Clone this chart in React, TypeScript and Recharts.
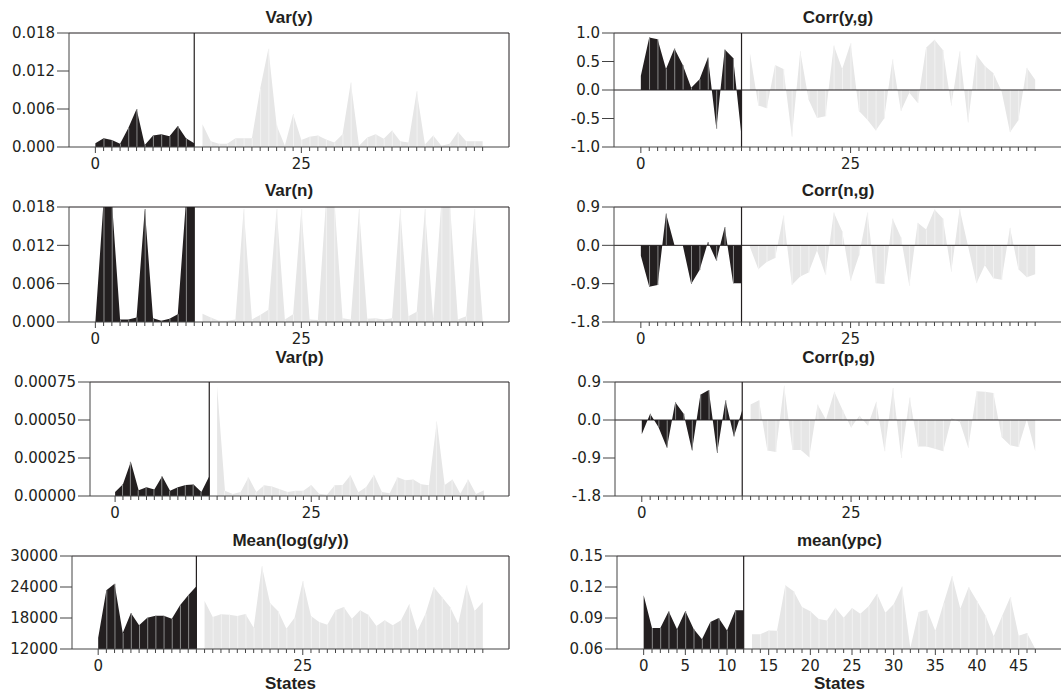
import React from 'react';
import { ComposedChart, Area, Bar, Cell, XAxis, YAxis, ReferenceLine } from 'recharts';

// states 0..47, the first 13 (0..12) drawn dark, the rest light
const states = [
  0, 1, 2, 3, 4, 5, 6, 7, 8, 9, 10, 11, 12, 13, 14, 15, 16, 17, 18, 19, 20, 21, 22, 23,
  24, 25, 26, 27, 28, 29, 30, 31, 32, 33, 34, 35, 36, 37, 38, 39, 40, 41, 42, 43, 44, 45, 46, 47,
];
const SPLIT = 12;

const varY = [
  0.0006, 0.0014, 0.0011, 0.0005, 0.003, 0.006, 0.0003, 0.0018, 0.002, 0.0017, 0.0033, 0.0014, 0.0006,
  0.0036, 0.0009, 0.0005, 0.0005, 0.0014, 0.0014, 0.0014, 0.0092, 0.0155, 0.0034, 0.0002, 0.0052,
  0.0011, 0.0016, 0.0018, 0.0012, 0.0007, 0.002, 0.0102, 0.0002, 0.0015, 0.002, 0.0013, 0.0026,
  0.0009, 0.0007, 0.0088, 0.0004, 0.0018, 0.0002, 0.0005, 0.0024, 0.0009, 0.0009, 0.0009,
];

const varN = [
  0, 0.019, 0.019, 0.0004, 0.0004, 0.0007, 0.0177, 0.0006, 0.0002, 0.0005, 0.0012, 0.019, 0.019,
  0.0013, 0.0007, 0.0002, 0.0002, 0.0004, 0.0177, 0.0004, 0.0011, 0.0019, 0.0177, 0.0004, 0.0012,
  0.0177, 0.0004, 0.0003, 0.019, 0.019, 0.0006, 0.0004, 0.0177, 0.0005, 0.0006, 0.0004, 0.0006,
  0.0177, 0.0009, 0.0016, 0.0177, 0.0004, 0.019, 0.019, 0.0004, 0.0009, 0.0177, 0.0003,
];

const varP = [
  2.6e-5, 7.7e-5, 2.25e-4, 3.75e-5, 5.7e-5, 4.2e-5, 1.3e-4, 3.5e-5, 5.7e-5, 7.3e-5, 7.5e-5, 2.6e-5, 1.3e-4,
  7.2e-4, 3.5e-5, 1.3e-5, 2.6e-5, 1.24e-4, 2.6e-5, 7.0e-5, 6.2e-5, 4.4e-5, 2.6e-5, 3.5e-5, 3.5e-5,
  7.3e-5, 1.5e-5, 9e-6, 7.0e-5, 7.3e-5, 1.37e-4, 2.4e-5, 6.0e-5, 1.39e-4, 2.6e-5, 1.8e-5, 1.24e-4,
  1.04e-4, 1.08e-4, 7.7e-5, 7.0e-5, 4.9e-4, 7.3e-5, 1.08e-4, 1.5e-5, 1.08e-4, 1.3e-5, 3.75e-5,
];

const meanLogGY = [
  14190, 23350, 24650, 15100, 18970, 16580, 18060, 18450, 18450, 17870, 20450, 22390, 24130,
  21290, 18190, 18710, 18640, 18390, 18770, 16130, 28000, 20900, 19290, 15930, 18060,
  25160, 18390, 17220, 16710, 19480, 20130, 17870, 19480, 18640, 16450, 17550, 16580,
  17550, 20640, 15480, 18840, 24000, 22060, 20130, 16900, 24320, 19350, 21100,
];

const corrYG = [
  0.25, 0.92, 0.89, 0.37, 0.73, 0.44, 0.04, 0.19, 0.57, -0.68, 0.71, 0.56, -0.81,
  0.65, -0.27, -0.32, 0.44, 0.37, -0.82, 0.68, -0.17, -0.49, -0.46, 0.78, 0.37,
  0.82, -0.37, -0.52, -0.71, -0.5, 0.54, -0.37, -0.05, -0.23, 0.74, 0.88, 0.7,
  -0.27, 0.68, -0.57, 0.62, 0.42, 0.3, -0.02, -0.74, -0.53, 0.39, 0.18,
];

const corrNG = [
  -0.245, -0.97, -0.93, 0.75, 0.01, 0, -0.91, -0.58, 0.08, -0.36, 0.43, -0.89, -0.89,
  -0.04, -0.56, -0.39, -0.3, 0.7, -0.93, -0.73, -0.64, -0.12, -0.69, 0.77, 0.33,
  -0.83, -0.24, 0.77, -0.89, -0.91, 0.63, 0.19, -0.95, 0.53, 0.37, 0.84, 0.63,
  -0.62, 0.86, -0.02, -0.89, -0.47, -0.77, -0.81, 0.41, -0.56, -0.75, -0.68,
];

const corrPG = [
  -0.34, 0.15, -0.17, -0.66, 0.42, 0.15, -0.72, 0.6, 0.71, -0.78, 0.47, -0.39, 0.23,
  0.37, 0.47, -0.72, -0.76, 0.81, -0.71, -0.71, -0.88, 0.37, 0.01, 0.67, 0.23,
  -0.18, 0.1, -0.13, 0.43, -0.74, 0.76, -0.9, 0.53, -0.63, -0.63, -0.68, -0.74,
  0.04, -0.05, -0.66, 0.68, 0.67, 0.64, -0.41, -0.6, -0.64, 0.01, -0.74,
];

const meanYpc = [
  0.1119, 0.0803, 0.0803, 0.0965, 0.079, 0.0968, 0.0794, 0.0694, 0.0861, 0.09, 0.078, 0.0974, 0.0974,
  0.0742, 0.0742, 0.078, 0.0777, 0.1216, 0.1158, 0.1006, 0.0965, 0.089, 0.0877, 0.1, 0.0903,
  0.0997, 0.0942, 0.1013, 0.1135, 0.0952, 0.1032, 0.1206, 0.061, 0.0958, 0.098, 0.0774, 0.1045,
  0.1306, 0.099, 0.12, 0.1065, 0.0926, 0.0723, 0.0916, 0.1103, 0.0729, 0.0755, 0.06,
];

const sparseLabels = [0, 25];
const fullLabels = [0, 5, 10, 15, 20, 25, 30, 35, 40, 45];

const X_DOMAIN: [number, number] = [-3.2, 50.2];
const ink = '#231f20';
const axisColor = '#444444';
const darkFill = '#231f20';
const lightFill = '#e6e6e6';
const darkSep = '#8a8a8a';
const lightSep = '#f2f2f2';
const TOP_PAD = 12;
const X_AXIS_H = 30;

function buildRows(values: number[]) {
  const last = states.length - 1;
  return states.map((s, i) => ({
    state: s,
    dark: i <= SPLIT ? values[i] : null,
    light: i > SPLIT ? values[i] : null,
    sep: i === 0 || i === SPLIT || i === SPLIT + 1 || i === last ? null : values[i],
  }));
}

function XTick(props: any) {
  const { x, y, payload, labels } = props;
  const major = labels.includes(payload.value);
  return (
    <g>
      <line x1={x} y1={y} x2={x} y2={y + (major ? 6 : 4)} stroke={axisColor} strokeWidth={1} />
      {major && (
        <text
          x={x}
          y={y + 11}
          dy="0.71em"
          textAnchor="middle"
          fill={ink}
          style={{ fontFamily: 'DejaVu Sans', fontSize: 15 }}
        >
          {payload.value}
        </text>
      )}
    </g>
  );
}

interface PanelProps {
  title: string;
  values: number[];
  yDomain: [number, number];
  yTicks: number[];
  decimals: number;
  chartLeft: number;
  plotLeft: number;
  plotRight: number;
  plotTop: number;
  plotHeight: number;
  titleTop: number;
  xLabels: number[];
  zeroLine?: boolean;
  rightBorder?: boolean;
}

function Panel({
  title,
  values,
  yDomain,
  yTicks,
  decimals,
  chartLeft,
  plotLeft,
  plotRight,
  plotTop,
  plotHeight,
  titleTop,
  xLabels,
  zeroLine,
  rightBorder,
}: PanelProps) {
  const rows = buildRows(values);
  const marginRight = rightBorder ? 2 : 0;
  const width = plotRight - chartLeft + marginRight;
  const height = TOP_PAD + plotHeight + X_AXIS_H;

  return (
    <>
      <div
        style={{
          position: 'absolute',
          left: plotLeft,
          width: plotRight - plotLeft,
          top: titleTop,
          textAlign: 'center',
          fontFamily: 'Liberation Sans',
          fontWeight: 'bold',
          fontSize: 17,
          lineHeight: '17px',
          color: ink,
        }}
      >
        {title}
      </div>
      <div style={{ position: 'absolute', left: chartLeft, top: plotTop - TOP_PAD }}>
        <ComposedChart
          width={width}
          height={height}
          data={rows}
          margin={{ top: TOP_PAD, right: marginRight, bottom: 0, left: 0 }}
        >
          <XAxis
            dataKey="state"
            type="number"
            domain={X_DOMAIN}
            allowDataOverflow
            ticks={states}
            interval={0}
            height={X_AXIS_H}
            tickSize={0}
            tickMargin={0}
            tickLine={false}
            axisLine={{ stroke: axisColor, strokeWidth: 1 }}
            tick={(p: any) => <XTick {...p} labels={xLabels} />}
          />
          <YAxis
            type="number"
            domain={yDomain}
            allowDataOverflow
            ticks={yTicks}
            interval={0}
            width={plotLeft - chartLeft}
            tickSize={12}
            tickMargin={2}
            tickLine={{ stroke: axisColor, strokeWidth: 1 }}
            axisLine={{ stroke: axisColor, strokeWidth: 1 }}
            tick={{ fill: ink, fontSize: 15, fontFamily: 'DejaVu Sans' }}
            tickFormatter={(v: number) => v.toFixed(decimals)}
          />
          <Area
            dataKey="dark"
            type="linear"
            stroke="none"
            fill={darkFill}
            fillOpacity={1}
            dot={false}
            activeDot={false}
            isAnimationActive={false}
          />
          <Area
            dataKey="light"
            type="linear"
            stroke="none"
            fill={lightFill}
            fillOpacity={1}
            dot={false}
            activeDot={false}
            isAnimationActive={false}
          />
          <Bar dataKey="sep" barSize={1} isAnimationActive={false}>
            {rows.map((r, i) => (
              <Cell key={r.state} fill={i <= SPLIT ? darkSep : lightSep} />
            ))}
          </Bar>
          {zeroLine && <ReferenceLine y={0} stroke={ink} strokeWidth={1} />}
          <ReferenceLine y={yDomain[1]} stroke={ink} strokeWidth={1} />
          {rightBorder && <ReferenceLine x={X_DOMAIN[1]} stroke={ink} strokeWidth={1} />}
          <ReferenceLine x={SPLIT} stroke={ink} strokeWidth={1.2} />
        </ComposedChart>
      </div>
    </>
  );
}

const rowsLayout = [
  { plotTop: 33, plotHeight: 114, titleTop: 9 },
  { plotTop: 207, plotHeight: 115, titleTop: 182 },
  { plotTop: 382, plotHeight: 114, titleTop: 349 },
  { plotTop: 556, plotHeight: 93, titleTop: 532 },
];

function AxisTitle({ left, width }: { left: number; width: number }) {
  return (
    <div
      style={{
        position: 'absolute',
        left,
        width,
        top: 675,
        textAlign: 'center',
        fontFamily: 'Liberation Sans',
        fontWeight: 'bold',
        fontSize: 17,
        lineHeight: '17px',
        color: ink,
      }}
    >
      States
    </div>
  );
}

export default function App() {
  const L = { chartLeft: 0, plotRight: 509, rightBorder: true };
  const R = { chartLeft: 530, plotRight: 1062 };
  return (
    <div
      style={{
        position: 'absolute',
        left: 0,
        top: 0,
        width: 1061,
        height: 695,
        overflow: 'hidden',
        background: '#ffffff',
      }}
    >
      <Panel
        {...L}
        {...rowsLayout[0]}
        plotLeft={69}
        title="Var(y)"
        values={varY}
        yDomain={[0, 0.018]}
        yTicks={[0, 0.006, 0.012, 0.018]}
        decimals={3}
        xLabels={sparseLabels}
      />
      <Panel
        {...L}
        {...rowsLayout[1]}
        plotLeft={69}
        title="Var(n)"
        values={varN}
        yDomain={[0, 0.018]}
        yTicks={[0, 0.006, 0.012, 0.018]}
        decimals={3}
        xLabels={sparseLabels}
      />
      <Panel
        {...L}
        {...rowsLayout[2]}
        plotLeft={90}
        title="Var(p)"
        values={varP}
        yDomain={[0, 0.00075]}
        yTicks={[0, 0.00025, 0.0005, 0.00075]}
        decimals={5}
        xLabels={sparseLabels}
      />
      <Panel
        {...L}
        {...rowsLayout[3]}
        plotLeft={72}
        title="Mean(log(g/y))"
        values={meanLogGY}
        yDomain={[12000, 30000]}
        yTicks={[12000, 18000, 24000, 30000]}
        decimals={0}
        xLabels={sparseLabels}
      />
      <Panel
        {...R}
        {...rowsLayout[0]}
        plotLeft={614}
        title="Corr(y,g)"
        values={corrYG}
        yDomain={[-1, 1]}
        yTicks={[-1, -0.5, 0, 0.5, 1]}
        decimals={1}
        xLabels={sparseLabels}
        zeroLine
      />
      <Panel
        {...R}
        {...rowsLayout[1]}
        plotLeft={614}
        title="Corr(n,g)"
        values={corrNG}
        yDomain={[-1.8, 0.9]}
        yTicks={[-1.8, -0.9, 0, 0.9]}
        decimals={1}
        xLabels={sparseLabels}
        zeroLine
      />
      <Panel
        {...R}
        {...rowsLayout[2]}
        plotLeft={615}
        title="Corr(p,g)"
        values={corrPG}
        yDomain={[-1.8, 0.9]}
        yTicks={[-1.8, -0.9, 0, 0.9]}
        decimals={1}
        xLabels={sparseLabels}
        zeroLine
      />
      <Panel
        {...R}
        {...rowsLayout[3]}
        plotLeft={617}
        title="mean(ypc)"
        values={meanYpc}
        yDomain={[0.06, 0.15]}
        yTicks={[0.06, 0.09, 0.12, 0.15]}
        decimals={2}
        xLabels={fullLabels}
      />
      <AxisTitle left={72} width={437} />
      <AxisTitle left={617} width={445} />
    </div>
  );
}
